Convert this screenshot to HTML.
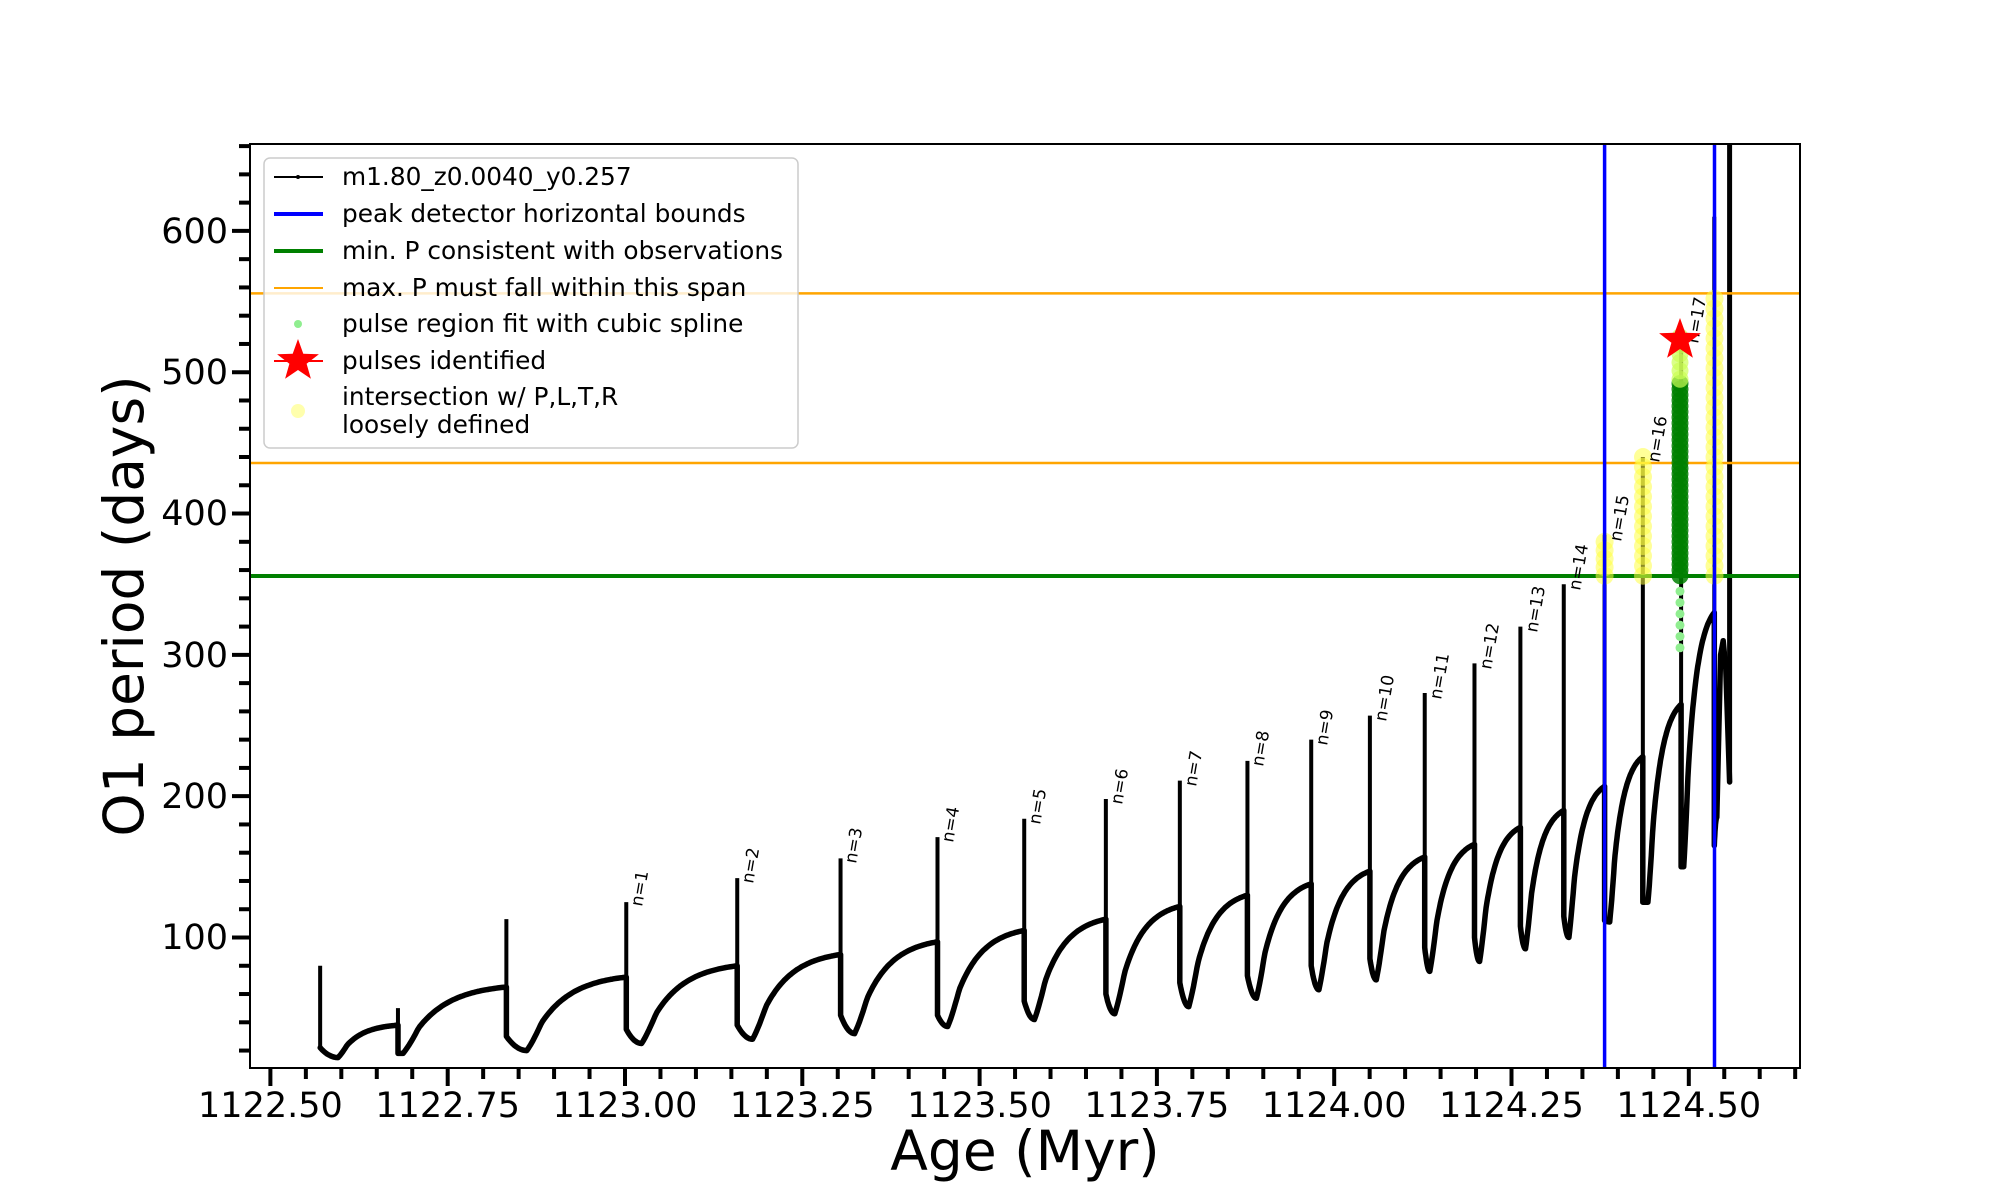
<!DOCTYPE html>
<html><head><meta charset="utf-8"><style>
html,body{margin:0;padding:0;background:#fff;}
svg{display:block;font-family:"DejaVu Sans","Liberation Sans",sans-serif;}
</style></head><body>
<svg id="s" width="2000" height="1200" viewBox="0 0 2000 1200" xmlns="http://www.w3.org/2000/svg">
<rect width="2000" height="1200" fill="#fff"/>
<g id="curves"></g>
<line x1="250" x2="1800" y1="293.4" y2="293.4" stroke="orange" stroke-width="2.5"/>
<line x1="250" x2="1800" y1="463" y2="463" stroke="orange" stroke-width="2.5"/>
<line x1="250" x2="1800" y1="576" y2="576" stroke="green" stroke-width="4"/>
<g id="markers"></g>
<line x1="1604.6" x2="1604.6" y1="144" y2="1068" stroke="blue" stroke-width="3.5"/>
<line x1="1714.5" x2="1714.5" y1="144" y2="1068" stroke="blue" stroke-width="3.5"/>
<g id="over"></g>
<g font-size="17" fill="#000">
<text transform="translate(642,907) rotate(-80)">n=1</text>
<text transform="translate(753,884) rotate(-80)">n=2</text>
<text transform="translate(856,864) rotate(-80)">n=3</text>
<text transform="translate(953,843) rotate(-80)">n=4</text>
<text transform="translate(1040,825) rotate(-80)">n=5</text>
<text transform="translate(1122,805) rotate(-80)">n=6</text>
<text transform="translate(1196,787) rotate(-80)">n=7</text>
<text transform="translate(1263,767) rotate(-80)">n=8</text>
<text transform="translate(1327,746) rotate(-80)">n=9</text>
<text transform="translate(1386,722) rotate(-80)">n=10</text>
<text transform="translate(1441,700) rotate(-80)">n=11</text>
<text transform="translate(1491,670) rotate(-80)">n=12</text>
<text transform="translate(1537,633) rotate(-80)">n=13</text>
<text transform="translate(1580,591) rotate(-80)">n=14</text>
<text transform="translate(1621,542) rotate(-80)">n=15</text>
<text transform="translate(1659,463) rotate(-80)">n=16</text>
<text transform="translate(1698,344) rotate(-80)">n=17</text>
</g>
<polygon id="star" fill="red" points=""/>
<rect x="250" y="144" width="1550" height="924" fill="none" stroke="#000" stroke-width="2"/>
<g id="ticks" stroke="#000"></g>
<g font-size="35" fill="#000" text-anchor="end">
<text x="228" y="949">100</text>
<text x="228" y="808">200</text>
<text x="228" y="667">300</text>
<text x="228" y="525">400</text>
<text x="228" y="384">500</text>
<text x="228" y="243">600</text>
</g>
<g font-size="35" fill="#000" text-anchor="middle">
<text x="270.4" y="1117">1122.50</text>
<text x="447.7" y="1117">1122.75</text>
<text x="625" y="1117">1123.00</text>
<text x="802.3" y="1117">1123.25</text>
<text x="979.6" y="1117">1123.50</text>
<text x="1156.9" y="1117">1123.75</text>
<text x="1334.2" y="1117">1124.00</text>
<text x="1511.5" y="1117">1124.25</text>
<text x="1688.8" y="1117">1124.50</text>
</g>
<text x="1025" y="1170" font-size="55" text-anchor="middle">Age (Myr)</text>
<text transform="translate(143,606) rotate(-90)" font-size="55" text-anchor="middle">O1 period (days)</text>
<rect x="264" y="158" width="534" height="290" rx="6" fill="rgba(255,255,255,0.8)" stroke="#ccc" stroke-width="1.5"/>
<line x1="274" x2="323" y1="177" y2="177" stroke="#000" stroke-width="2"/><circle cx="298" cy="177" r="2" fill="#000"/>
<line x1="274" x2="323" y1="214" y2="214" stroke="blue" stroke-width="4"/>
<line x1="274" x2="323" y1="251" y2="251" stroke="green" stroke-width="4"/>
<line x1="274" x2="323" y1="288" y2="288" stroke="orange" stroke-width="2"/>
<circle cx="298" cy="324" r="4" fill="lightgreen"/>
<line x1="274" x2="323" y1="361" y2="361" stroke="red" stroke-width="2"/>
<polygon id="lstar" fill="red" points=""/>
<circle cx="298" cy="411" r="7" fill="#ffff99" opacity="0.8"/>
<g font-size="24.8" fill="#000">
<text x="342" y="185">m1.80_z0.0040_y0.257</text>
<text x="342" y="222">peak detector horizontal bounds</text>
<text x="342" y="259">min. P consistent with observations</text>
<text x="342" y="296">max. P must fall within this span</text>
<text x="342" y="332">pulse region fit with cubic spline</text>
<text x="342" y="369">pulses identified</text>
<text x="342" y="405">intersection w/ P,L,T,R</text>
<text x="342" y="433">loosely defined</text>
</g>
</svg>
<script>
(function(){
var NS="http://www.w3.org/2000/svg";
function X(d){return d*1.2755;}
function Y(v){return 937.5-(v-100)*1.4132;}
function el(p,tag,a){var e=document.createElementNS(NS,tag);for(var k in a)e.setAttribute(k,a[k]);p.appendChild(e);return e;}
var cyc=[[251,80,22,265,15],[312,50,18,316,18],[397,113,30,413,20],[491,125,35,503,25],[578,142,38,590,28],[659,156,45,670,32],[735,171,45,743,37],[803,184,55,811,42],[867,198,60,874,46],[925,211,68,932,51],[978,225,73,985,57],[1028,240,80,1034,63],[1074,257,85,1079,70],[1117,273,93,1121,76],[1156,294,100,1160,83],[1192,320,108,1196,92],[1226,350,115,1230,100],[1258,385,112,1262,111],[1288,440,125,1292,125],[1318,525,150,1320,150],[1344,610,165,1346,185]];
var b=[38,65,72,80,88,97,105,113,122,130,138,147,157,166,178,190,207,228,265,330];
var g=document.getElementById('curves');
var spikes="",curve="";
for(var i=0;i<cyc.length;i++){
 var c=cyc[i],xs=c[0],P=c[1],L=c[2],xm=c[3],m=c[4];
 spikes+="M"+X(xs)+" "+Y(L)+"L"+X(xs)+" "+Y(P)+" ";
 var pts=[];
 for(var u=0;u<=1.0001;u+=0.1){var x=xs+(xm-xs)*u;var v=m+(L-m)*Math.pow(1-u,2);pts.push(X(x).toFixed(1)+" "+Y(v).toFixed(1));}
 if(i<b.length){
  var xe=cyc[i+1][0],be=b[i];
  for(var u=0.02;u<=1.0001;u+=0.02){var x=xm+(xe-xm)*u;var s=(1-Math.exp(-3*u))/(1-Math.exp(-3));var sm=u<0.15?s*(0.6+0.4*u/0.15):s;var v=m+(be-m)*sm;pts.push(X(x).toFixed(1)+" "+Y(v).toFixed(1));}
  pts.push(X(xe).toFixed(1)+" "+Y(cyc[i+1][2]).toFixed(1));
 } else {
  pts.push(X(1349).toFixed(1)+" "+Y(300).toFixed(1));
  pts.push(X(1351).toFixed(1)+" "+Y(310).toFixed(1));
  pts.push(X(1353).toFixed(1)+" "+Y(290).toFixed(1));
  pts.push(X(1356).toFixed(1)+" "+Y(210).toFixed(1));
 }
 curve+="M"+pts.join(" L")+" ";
}
el(g,'path',{d:curve,fill:'none',stroke:'#000','stroke-width':5.5,'stroke-linejoin':'round','stroke-linecap':'round'});
el(g,'path',{d:spikes,fill:'none',stroke:'#000','stroke-width':4});
el(g,'line',{x1:1729.6,x2:1729.6,y1:144,y2:Y(210),stroke:'#000','stroke-width':5});
var mk=document.getElementById('markers');
function col(x,v0,v1,r,fill,op,step){for(var v=v0;v<=v1;v+=step)el(mk,'circle',{cx:x,cy:Y(v),r:r,fill:fill,opacity:op});}
col(1604.6,356,385,9,'#ffff44',0.55,6);
col(1643,356,440,9,'#ffff44',0.55,7);
col(1714.5,356,555,9,'#ffff44',0.55,7);
col(1680,305,350,4.5,'lightgreen',1,8);
col(1680,356,495,8.5,'green',0.85,4);
col(1680,495,525,8.5,'#ccff55',0.7,6);
el(g,'line',{x1:1714.5,x2:1714.5,y1:Y(610),y2:Y(165),stroke:'#333','stroke-width':2});
function star(cx,cy,R,r){var p=[];for(var k=0;k<10;k++){var a=-Math.PI/2+k*Math.PI/5;var rr=k%2?r:R;p.push((cx+rr*Math.cos(a)).toFixed(1)+","+(cy+rr*Math.sin(a)).toFixed(1));}return p.join(" ");}
document.getElementById('star').setAttribute('points',star(1680,340,22,9));
document.getElementById('lstar').setAttribute('points',star(298,361,22,9));
var t=document.getElementById('ticks');
for(var v=20;v<=660;v+=20){var y=Y(v);if(y<144||y>1068)continue;var maj=(v%100===0);el(t,'line',{x1:250-(maj?18:11),x2:250,y1:y,y2:y,'stroke-width':4});}
for(var k=0;k<=43;k++){var tv=1122.5+k*0.05;var x=270.4+(tv-1122.5)*709.2;if(x<250||x>1800)continue;var maj=(k%5===0);el(t,'line',{x1:x,x2:x,y1:1068,y2:1068+(maj?18:11),'stroke-width':4});}
})();
</script>
</body></html>
